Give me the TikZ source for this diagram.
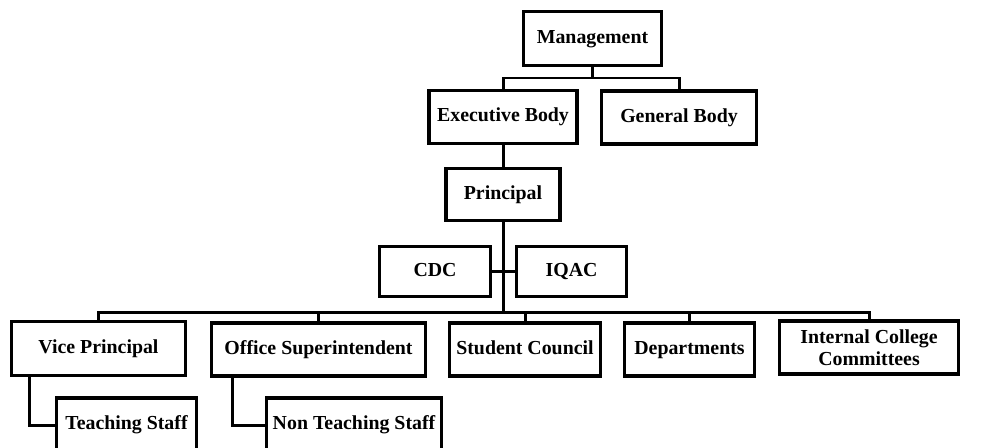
\documentclass[tikz,border=0pt]{standalone}
\usepackage{fontspec}
\setmainfont{Liberation Serif}
\begin{document}
\begin{tikzpicture}[x=0.02cm, y=-0.02cm,
	box/.style={draw, line width=1.9pt, inner sep=0pt, minimum height=1.08cm, align=center, text height=8pt, text depth=2.5pt, font=\fontsize{11.3}{12.5}\selectfont\bfseries},
	link/.style={line width=1.7pt}]
	\useasboundingbox (0,0) rectangle (982,447);
	\clip (0,0) rectangle (982,447);
	% top levels
	\node[box, minimum width=2.76cm] (mgmt) at (592.5,38.5) {Management};
	\node[box, minimum width=2.96cm, minimum height=1.06cm] (exec) at (503,117) {Executive Body};
	\node[box, minimum width=3.10cm, minimum height=1.06cm] (gen) at (679,117.5) {General Body};
	\node[box, minimum width=2.28cm, minimum height=1.04cm] (prin) at (503,194.5) {Principal};
	\node[box, minimum width=2.22cm, minimum height=1.0cm] (cdc) at (435,271.5) {CDC};
	\node[box, minimum width=2.20cm, minimum height=1.0cm] (iqac) at (571.5,271.5) {IQAC};
	% bottom row
	\node[box, minimum width=3.48cm] (vp) at (98.5,348.5) {Vice Principal};
	\node[box, minimum width=4.28cm, minimum height=1.06cm] (os) at (318.5,349.5) {Office Superintendent};
	\node[box, minimum width=3.02cm, minimum height=1.06cm] (sc) at (525,349.5) {Student Council};
	\node[box, minimum width=2.60cm, minimum height=1.06cm] (dep) at (689.5,349.5) {Departments};
	\node[box, minimum width=3.58cm, minimum height=1.06cm, text height=, text depth=] (icc) at (869,347.5) {Internal College\\Committees};
	\node[box, minimum width=2.80cm, minimum height=1.08cm] (ts) at (126.5,425) {Teaching Staff};
	\node[box, minimum width=3.50cm, minimum height=1.08cm] (nts) at (354,425) {Non Teaching Staff};
	% connectors
	\coordinate (top) at (0,78);
	\coordinate (bus) at (0,312);
	\draw[link] (mgmt.south) -- (mgmt.south |- top);
	\draw[link] (exec.north) -- (exec.north |- top) -| (gen.north);
	\draw[link] (exec.south) -- (prin.north);
	\draw[link] (prin.south) -- (prin.south |- bus);
	\draw[link] (cdc.east) -- (iqac.west);
	\draw[link] (vp.north) -- (vp.north |- bus) -| (icc.north);
	\foreach \n in {os,sc,dep}
		\draw[link] (\n.north) -- (\n.north |- bus);
	\draw[link] (vp.south west) ++(20,0) |- (ts.west);
	\draw[link] (os.south west) ++(23,0) |- (nts.west);
\end{tikzpicture}
\end{document}
